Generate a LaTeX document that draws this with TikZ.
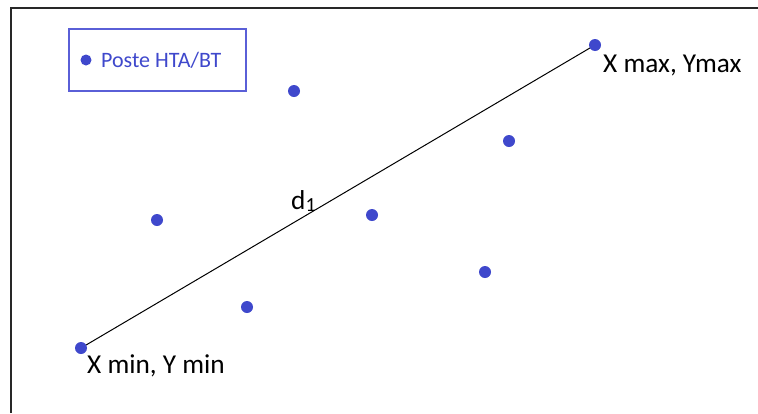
\documentclass[tikz,border=0pt]{standalone}
\usepackage{fontspec}
\setmainfont{Carlito}
\definecolor{dotblue}{RGB}{63,72,204}
\definecolor{legblue}{RGB}{90,95,215}
\definecolor{framegray}{RGB}{40,40,40}
\begin{document}
\begin{tikzpicture}[x=1pt,y=-1pt,
  poste/.style={circle,fill=dotblue,inner sep=0pt,minimum size=12pt},
  lbl/.style={font=\fontsize{27.3}{31}\selectfont,inner sep=0pt,anchor=west}]
\useasboundingbox (0,0) rectangle (758,413);
\fill[white] (0,0) rectangle (758,413);
% frame (top and left edges)
\draw[framegray,line width=2pt] (11,413) -- (11,8) -- (758,8);
% legend
\node[draw=legblue,line width=1.2pt,minimum width=177pt,minimum height=62pt,inner sep=0pt] (legend) at (157.5,60) {};
\node[circle,fill=dotblue,inner sep=0pt,minimum size=11pt] (legdot) at (86,60) {};
\node[font=\fontsize{22}{26}\selectfont,text=dotblue,inner sep=0pt,anchor=west] (legtext) at (101,60) {Poste HTA/BT};
% distance line
\coordinate (cmin) at (81,348);
\coordinate (cmax) at (595,45);
\draw[black,line width=1pt] (cmin) -- (cmax);
% points
\node[poste] (pmin) at (cmin) {};
\node[poste] (pmax) at (cmax) {};
\node[poste] (p1) at (294,91) {};
\node[poste] (p2) at (509,141) {};
\node[poste] (p3) at (157,220) {};
\node[poste] (p4) at (372,215) {};
\node[poste] (p5) at (485,272) {};
\node[poste] (p6) at (247,307) {};
% labels
\node[lbl] (lmax) at (603,65) {X max, Ymax};
\node[lbl] (lmin) at (87,366) {X min, Y min};
\node[lbl] (ld) at (291,201) {d\raisebox{-2pt}{\fontsize{20}{24}\selectfont 1}};
\end{tikzpicture}
\end{document}
